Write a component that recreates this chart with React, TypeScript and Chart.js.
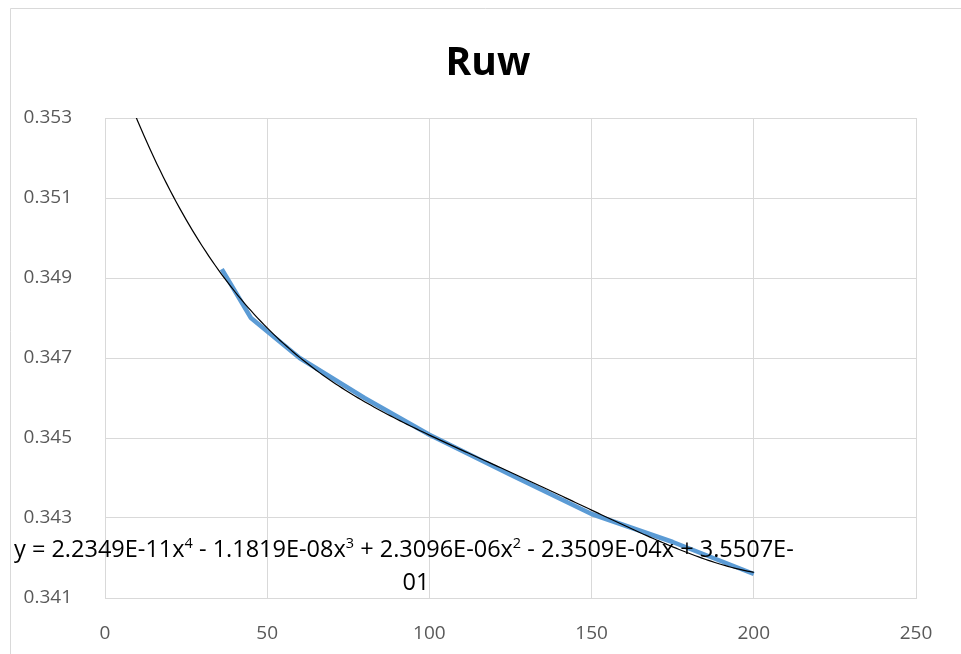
import React, { useEffect, useRef } from "react";
import { Chart, registerables } from "chart.js";

Chart.register(...registerables);

// ---- data ----
const chartTitle = "Ruw";
const xValues = [36, 45, 60, 80, 100, 125, 150, 175, 200];
const ruwValues = [0.34922, 0.348, 0.347, 0.346, 0.34508, 0.34408, 0.3431, 0.3424, 0.3416];
// polynomial trendline coefficients shown in the chart (c0 + c1 x + c2 x^2 + c3 x^3 + c4 x^4)
const trendCoefficients = [3.5507e-1, -2.3509e-4, 2.3096e-6, -1.1819e-8, 2.2349e-11];
const trendXRange = [0, 200];
const xTickValues = [0, 50, 100, 150, 200, 250];
const yTickValues = [0.341, 0.343, 0.345, 0.347, 0.349, 0.351, 0.353];
const equationLine1 = [
  { text: "y = 2.2349E-11x", sup: false },
  { text: "4", sup: true },
  { text: " - 1.1819E-08x", sup: false },
  { text: "3", sup: true },
  { text: " + 2.3096E-06x", sup: false },
  { text: "2", sup: true },
  { text: " - 2.3509E-04x + 3.5507E-", sup: false },
];
const equationLine2 = "01";

const FONT = "'Open Sans', 'DejaVu Sans', sans-serif";

function trendPoints() {
  const pts: { x: number; y: number }[] = [];
  for (let x = trendXRange[0]; x <= trendXRange[1]; x += 1) {
    let y = 0;
    for (let i = 0; i < trendCoefficients.length; i++) y += trendCoefficients[i] * Math.pow(x, i);
    pts.push({ x, y });
  }
  return pts;
}

const decorPlugin = {
  id: "decor",
  beforeDraw(chart: any) {
    const ctx = chart.ctx;
    ctx.save();
    ctx.fillStyle = "#ffffff";
    ctx.fillRect(0, 0, chart.width, chart.height);
    ctx.strokeStyle = "#d9d9d9";
    ctx.lineWidth = 1;
    ctx.beginPath();
    ctx.moveTo(10.5, chart.height);
    ctx.lineTo(10.5, 8.5);
    ctx.lineTo(chart.width, 8.5);
    ctx.stroke();
    ctx.restore();
  },
  afterDraw(chart: any) {
    const ctx = chart.ctx;
    ctx.save();
    // title
    ctx.fillStyle = "#000000";
    ctx.font = `bold 39px ${FONT}`;
    ctx.textAlign = "center";
    ctx.textBaseline = "alphabetic";
    ctx.fillText(chartTitle, 488, 75);

    // equation
    const size = 23.5;
    const supSize = 14.5;
    ctx.textAlign = "left";
    let x = 14;
    const base1 = 557;
    for (const seg of equationLine1) {
      ctx.font = `${seg.sup ? supSize : size}px ${FONT}`;
      const y = seg.sup ? base1 - 9 : base1;
      ctx.fillText(seg.text, x, y);
      x += ctx.measureText(seg.text).width;
    }
    ctx.font = `${size}px ${FONT}`;
    ctx.textAlign = "center";
    ctx.fillText(equationLine2, 416, 590);
    ctx.restore();
  },
};

export default function App() {
  const canvasRef = useRef<HTMLCanvasElement | null>(null);

  useEffect(() => {
    if (!canvasRef.current) return;
    const chart = new Chart(canvasRef.current, {
      type: "scatter",
      data: {
        datasets: [
          {
            label: "Trend",
            data: trendPoints(),
            showLine: true,
            borderColor: "#000000",
            borderWidth: 1.2,
            pointRadius: 0,
            tension: 0,
          },
          {
            label: chartTitle,
            data: xValues.map((x, i) => ({ x, y: ruwValues[i] })),
            showLine: true,
            borderColor: "#5b9bd5",
            borderWidth: 4.5,
            pointRadius: 0,
            tension: 0,
            borderCapStyle: "butt",
            borderJoinStyle: "round",
          },
        ],
      },
      options: {
        responsive: false,
        animation: false,
        devicePixelRatio: 1,
        layout: { padding: { top: 118, right: 45, left: 0, bottom: 0 } },
        plugins: {
          legend: { display: false },
          tooltip: { enabled: false },
          title: { display: false },
        },
        scales: {
          x: {
            type: "linear",
            min: 0,
            max: 250,
            afterBuildTicks: (scale: any) => {
              scale.ticks = xTickValues.map((v) => ({ value: v }));
            },
            afterFit: (scale: any) => {
              scale.height = 56;
            },
            grid: { color: "#d9d9d9", lineWidth: 1, drawTicks: false },
            border: { display: true, color: "#d9d9d9" },
            ticks: {
              color: "#595959",
              font: { family: FONT, size: 19 },
              padding: 24,
              maxRotation: 0,
              callback: (v: any) => String(v),
            },
          },
          y: {
            type: "linear",
            min: 0.341,
            max: 0.353,
            afterBuildTicks: (scale: any) => {
              scale.ticks = yTickValues.map((v) => ({ value: v }));
            },
            afterFit: (scale: any) => {
              scale.width = 105;
            },
            grid: { color: "#d9d9d9", lineWidth: 1, drawTicks: false },
            border: { display: true, color: "#d9d9d9" },
            ticks: {
              color: "#595959",
              font: { family: FONT, size: 19 },
              padding: 33,
              callback: (v: any) => Number(v).toFixed(3),
            },
          },
        },
      },
      plugins: [decorPlugin],
    });
    return () => chart.destroy();
  }, []);

  return (
    <div style={{ position: "absolute", left: 0, top: 0, width: 961, height: 654, background: "#fff" }}>
      <canvas ref={canvasRef} width={961} height={654} style={{ width: 961, height: 654, display: "block" }} />
    </div>
  );
}
